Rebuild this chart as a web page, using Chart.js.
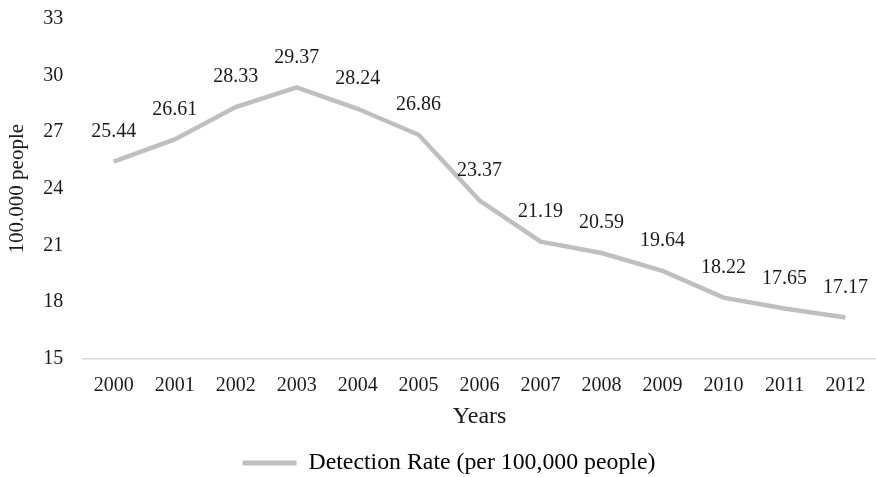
<!DOCTYPE html>
<html>
<head>
<meta charset="utf-8">
<script src="https://cdn.jsdelivr.net/npm/chart.js@4.4.1/dist/chart.umd.min.js"></script>
<style>
  html, body { margin: 0; padding: 0; background: #ffffff; }
  #wrap { width: 876px; height: 477px; }
</style>
</head>
<body>
<div id="wrap"><canvas id="chart" width="876" height="477"></canvas></div>
<script>
const years = ['2000', '2001', '2002', '2003', '2004', '2005', '2006', '2007', '2008', '2009', '2010', '2011', '2012'];
const detectionRate = [25.44, 26.61, 28.33, 29.37, 28.24, 26.86, 23.37, 21.19, 20.59, 19.64, 18.22, 17.65, 17.17];
const seriesName = 'Detection Rate (per 100,000 people)';
const yTitle = '100.000 people';
const xTitle = 'Years';

const FONT = "'Liberation Serif', 'Times New Roman', serif";
const LINE_COLOR = '#bfbfbf';
const TEXT_COLOR = '#1a1a1a';

// Writes each point's value just above it
const valueLabels = {
  id: 'valueLabels',
  afterDatasetsDraw(chart) {
    const ctx = chart.ctx;
    const meta = chart.getDatasetMeta(0);
    const data = chart.data.datasets[0].data;
    ctx.save();
    ctx.font = '20px ' + FONT;
    ctx.fillStyle = TEXT_COLOR;
    ctx.textAlign = 'center';
    ctx.textBaseline = 'middle';
    meta.data.forEach((pt, i) => {
      ctx.fillText(data[i].toFixed(2), pt.x, pt.y - 30);
    });
    ctx.restore();
  }
};

// Nudges the legend row a little to the right of the canvas centre
const legendShift = {
  id: 'legendShift',
  afterLayout(chart) {
    if (chart.legend) {
      chart.legend.left += 11;
      chart.legend.right += 11;
    }
  }
};

new Chart(document.getElementById('chart'), {
  type: 'line',
  data: {
    labels: years,
    datasets: [{
      label: seriesName,
      data: detectionRate,
      borderColor: LINE_COLOR,
      backgroundColor: LINE_COLOR,
      borderWidth: 4.5,
      pointRadius: 0,
      tension: 0,
      fill: false
    }]
  },
  options: {
    responsive: false,
    animation: false,
    layout: { padding: { top: 19, right: 0, left: 0, bottom: -8 } },
    plugins: {
      tooltip: { enabled: false },
      legend: {
        position: 'bottom',
        labels: {
          font: { family: FONT, size: 23.8 },
          color: TEXT_COLOR,
          boxWidth: 54,
          boxHeight: 5,
          padding: 4,
          generateLabels(chart) {
            return chart.data.datasets.map((ds, i) => ({
              text: ds.label,
              fillStyle: ds.borderColor,
              strokeStyle: ds.borderColor,
              lineWidth: 0,
              datasetIndex: i,
              hidden: false
            }));
          }
        }
      }
    },
    scales: {
      x: {
        offset: true,
        grid: { display: false, drawTicks: false },
        border: { display: true, color: '#d9d9d9', width: 1.5 },
        ticks: { font: { family: FONT, size: 20 }, color: TEXT_COLOR, padding: 15, maxRotation: 0 },
        title: { display: true, text: xTitle, font: { family: FONT, size: 24 }, color: TEXT_COLOR, padding: { top: -10, bottom: 16 } },
        afterFit(scale) {
          scale.paddingLeft = 0;
          scale.paddingRight = 0;
        }
      },
      y: {
        min: 15,
        max: 33,
        grid: { display: false, drawTicks: false },
        border: { display: false },
        ticks: { stepSize: 3, font: { family: FONT, size: 20 }, color: TEXT_COLOR, padding: 20 },
        title: { display: true, text: yTitle, font: { family: FONT, size: 21 }, color: TEXT_COLOR, padding: { top: 5, bottom: -7 } },
        afterFit(scale) {
          scale.paddingTop = 0;
          scale.paddingBottom = 0;
        }
      }
    }
  },
  plugins: [valueLabels, legendShift]
});
</script>
</body>
</html>
